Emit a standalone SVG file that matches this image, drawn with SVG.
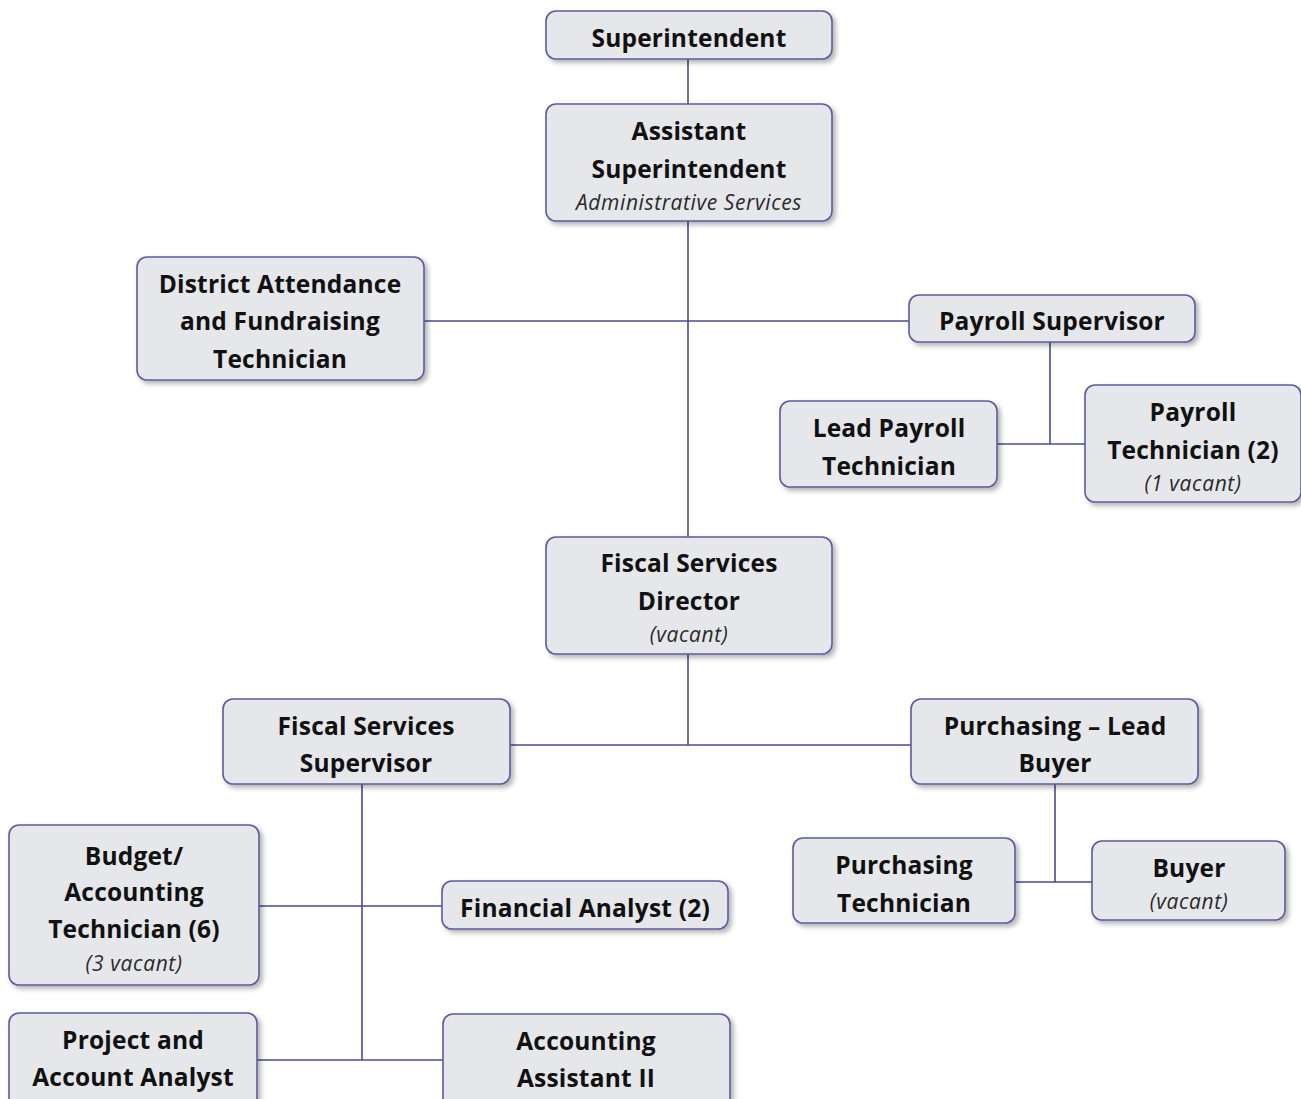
<svg xmlns="http://www.w3.org/2000/svg" width="1301" height="1099" viewBox="0 0 1301 1099">
<defs>
<filter id="sh" x="-10%" y="-10%" width="125%" height="135%">
<feDropShadow dx="3" dy="3" stdDeviation="2.5" flood-color="#000" flood-opacity="0.3"/>
</filter>
<style>
.box{fill:#e6e7ea;stroke:#5d5b9f;stroke-width:1.6;filter:url(#sh)}
.t{font-family:"Open Sans","Liberation Sans",sans-serif;font-weight:700;font-size:24.5px;letter-spacing:0.2px;fill:#111;text-anchor:middle}
.i{font-family:"Open Sans","Liberation Sans",sans-serif;font-style:italic;font-weight:400;font-size:21px;letter-spacing:0.6px;fill:#2a2a2a;text-anchor:middle}
.c{stroke:#4b4a94;stroke-width:1.6;fill:none}
</style>
</defs>
<rect width="1301" height="1099" fill="#fff"/>
<g id="connectors">
<path class="c" d="M688 59V104M688 221V537M424 321H909M1050 342V444M997 444H1085M688 654V745M510 745H911M362 784V1060M259 906H442M257 1060H443M1055 784V882M1015 882H1092"/>
</g>
<g id="superintendent"><rect class="box" x="546" y="11" width="286" height="48" rx="10"/><text class="t" x="689" y="47">Superintendent</text></g>
<g id="asst-superintendent"><rect class="box" x="546" y="104" width="286" height="117" rx="10"/><text class="t" x="689" y="140">Assistant</text><text class="t" x="689" y="178">Superintendent</text><text class="i" x="689" y="210">Administrative Services</text></g>
<g id="district-attendance"><rect class="box" x="137" y="257" width="287" height="123" rx="10"/><text class="t" x="280" y="293">District Attendance</text><text class="t" x="280" y="330">and Fundraising</text><text class="t" x="280" y="368">Technician</text></g>
<g id="payroll-supervisor"><rect class="box" x="909" y="295" width="286" height="47" rx="10"/><text class="t" x="1052" y="330">Payroll Supervisor</text></g>
<g id="lead-payroll-technician"><rect class="box" x="780" y="401" width="217" height="86" rx="10"/><text class="t" x="889" y="437">Lead Payroll</text><text class="t" x="889" y="475">Technician</text></g>
<g id="payroll-technician"><rect class="box" x="1085" y="385" width="216" height="117" rx="10"/><text class="t" x="1193" y="421">Payroll</text><text class="t" x="1193" y="459">Technician (2)</text><text class="i" x="1193" y="491">(1 vacant)</text></g>
<g id="fiscal-services-director"><rect class="box" x="546" y="537" width="286" height="117" rx="10"/><text class="t" x="689" y="572">Fiscal Services</text><text class="t" x="689" y="610">Director</text><text class="i" x="689" y="642">(vacant)</text></g>
<g id="fiscal-services-supervisor"><rect class="box" x="223" y="699" width="287" height="85" rx="10"/><text class="t" x="366" y="735">Fiscal Services</text><text class="t" x="366" y="772">Supervisor</text></g>
<g id="purchasing-lead-buyer"><rect class="box" x="911" y="699" width="287" height="85" rx="10"/><text class="t" x="1055" y="735">Purchasing – Lead</text><text class="t" x="1055" y="772">Buyer</text></g>
<g id="budget-accounting-technician"><rect class="box" x="9" y="825" width="250" height="160" rx="10"/><text class="t" x="134" y="865">Budget/</text><text class="t" x="134" y="901">Accounting</text><text class="t" x="134" y="938">Technician (6)</text><text class="i" x="134" y="971">(3 vacant)</text></g>
<g id="financial-analyst"><rect class="box" x="442" y="881" width="286" height="48" rx="10"/><text class="t" x="585" y="917">Financial Analyst (2)</text></g>
<g id="purchasing-technician"><rect class="box" x="793" y="838" width="222" height="85" rx="10"/><text class="t" x="904" y="874">Purchasing</text><text class="t" x="904" y="912">Technician</text></g>
<g id="buyer"><rect class="box" x="1092" y="841" width="193" height="79" rx="10"/><text class="t" x="1189" y="877">Buyer</text><text class="i" x="1189" y="909">(vacant)</text></g>
<g id="project-account-analyst"><rect class="box" x="9" y="1013" width="248" height="100" rx="10"/><text class="t" x="133" y="1049">Project and</text><text class="t" x="133" y="1086">Account Analyst</text></g>
<g id="accounting-assistant"><rect class="box" x="443" y="1014" width="287" height="100" rx="10"/><text class="t" x="586" y="1050">Accounting</text><text class="t" x="586" y="1087">Assistant II</text></g>
</svg>
